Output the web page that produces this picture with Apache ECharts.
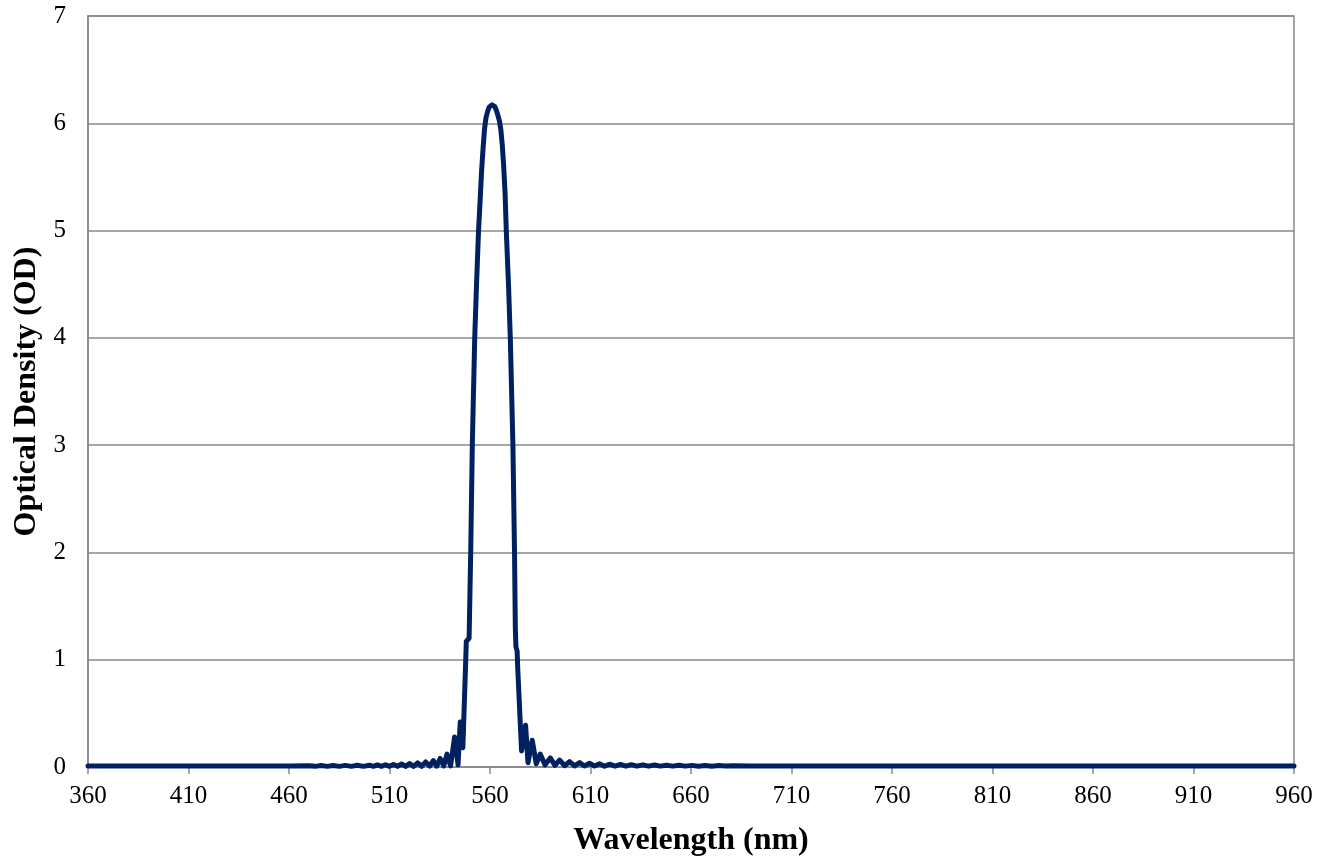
<!DOCTYPE html>
<html>
<head>
<meta charset="utf-8">
<script src="https://cdn.jsdelivr.net/npm/echarts@6/dist/echarts.min.js"></script>
<style>
html,body{margin:0;padding:0;background:#fff;}
#chart{width:1318px;height:862px;}
</style>
</head>
<body>
<div id="chart"></div>
<script>
const wavelengths = [
  360, 400, 440, 460, 470, 473, 476, 479, 482, 485, 488, 491, 494, 497,
  500, 502, 504, 506, 508, 510, 512, 514, 516, 518, 520, 522, 524, 526,
  528, 530, 531.8, 533.5, 535.2, 537, 538.6, 540.4, 542.4, 544.1, 545.2,
  546.5, 547.9, 548.2, 549.6, 550.4, 551.2, 552.4, 553.3, 554.3, 555.0, 555.8, 556.6, 557.3,
  558.0, 558.8, 559.6, 560.3, 561.0, 561.7, 562.4, 563.2, 564.0, 564.7, 565.4, 566.1, 566.8,
  567.5, 568.1, 569.2, 570.1, 571.4,
  572.2, 572.6, 572.9, 573.5, 573.8, 575.7, 577.7, 578.9, 581.0, 583.0, 585.0,
  587.4, 590, 592.3, 594.6, 597.1, 599.6, 602.1, 604.6, 607, 609.5, 612,
  614.5, 617, 619.5, 622.2, 624.9, 627.6, 630.3, 633.1, 636, 638.9, 641.8,
  644.8, 647.8, 650.9, 654, 657.2, 660.4, 663.7, 667, 670.4, 673.8, 677.3,
  681, 690, 720, 800, 900, 960
];
const opticalDensity = [
  0.01, 0.01, 0.01, 0.01, 0.012, 0.006, 0.013, 0.006, 0.014, 0.006, 0.015, 0.006, 0.016, 0.006,
  0.017, 0.006, 0.019, 0.006, 0.021, 0.006, 0.024, 0.006, 0.028, 0.006, 0.033, 0.006, 0.038, 0.007,
  0.048, 0.008, 0.06, 0.008, 0.08, 0.01, 0.12, 0.01, 0.28, 0.02, 0.42,
  0.18, 0.98, 1.17, 1.2, 2.0, 3.0, 4.0, 4.5, 5.0, 5.25, 5.55, 5.78, 5.95,
  6.05, 6.11, 6.15, 6.168, 6.172, 6.168, 6.155, 6.12, 6.07, 6.02, 5.94, 5.8, 5.6,
  5.35, 5.0, 4.5, 4.0, 3.0,
  2.0, 1.3, 1.12, 1.08, 0.92, 0.15, 0.39, 0.04, 0.25, 0.03, 0.12,
  0.02, 0.085, 0.015, 0.065, 0.012, 0.05, 0.01, 0.042, 0.01, 0.035, 0.01,
  0.03, 0.008, 0.026, 0.008, 0.024, 0.008, 0.022, 0.008, 0.02, 0.008, 0.018,
  0.008, 0.017, 0.008, 0.016, 0.008, 0.015, 0.008, 0.014, 0.008, 0.013, 0.009,
  0.012, 0.01, 0.01, 0.01, 0.01, 0.01
];
const xTicks = { min: 360, max: 960, interval: 50 };
const yTicks = { min: 0, max: 7, interval: 1 };

const seriesData = wavelengths.map((w, i) => [w, opticalDensity[i]]);
const gray = '#898989';
const font = '"Liberation Serif", "Times New Roman", serif';

const chart = echarts.init(document.getElementById('chart'));
chart.setOption({
  animation: false,
  backgroundColor: '#ffffff',
  grid: {
    left: 88, right: 24, top: 16, bottom: 90,
    show: true, borderColor: gray, borderWidth: 1.5, backgroundColor: 'transparent'
  },
  xAxis: {
    type: 'value',
    min: xTicks.min, max: xTicks.max, interval: xTicks.interval,
    name: 'Wavelength (nm)',
    nameLocation: 'middle',
    nameGap: 58,
    nameTextStyle: { fontFamily: font, fontSize: 32, fontWeight: 'bold', color: '#000' },
    axisLine: { show: true, lineStyle: { color: gray, width: 1.5 } },
    axisTick: { show: true, inside: false, length: 7, lineStyle: { color: gray, width: 1.5 } },
    axisLabel: { fontFamily: font, fontSize: 25, color: '#000', margin: 17 },
    splitLine: { show: false }
  },
  yAxis: {
    type: 'value',
    min: yTicks.min, max: yTicks.max, interval: yTicks.interval,
    name: 'Optical Density (OD)',
    nameLocation: 'middle',
    nameGap: 45,
    nameTextStyle: { fontFamily: font, fontSize: 32, fontWeight: 'bold', color: '#000' },
    axisLine: { show: true, lineStyle: { color: gray, width: 1.5 } },
    axisTick: { show: false },
    axisLabel: { fontFamily: font, fontSize: 25, color: '#000', margin: 22 },
    splitLine: { show: true, lineStyle: { color: gray, width: 1.5 } }
  },
  series: [{
    type: 'line',
    data: seriesData,
    showSymbol: false,
    smooth: false,
    lineStyle: { color: '#002060', width: 5, join: 'round', cap: 'round' },
    itemStyle: { color: '#002060' }
  }]
});
</script>
</body>
</html>
